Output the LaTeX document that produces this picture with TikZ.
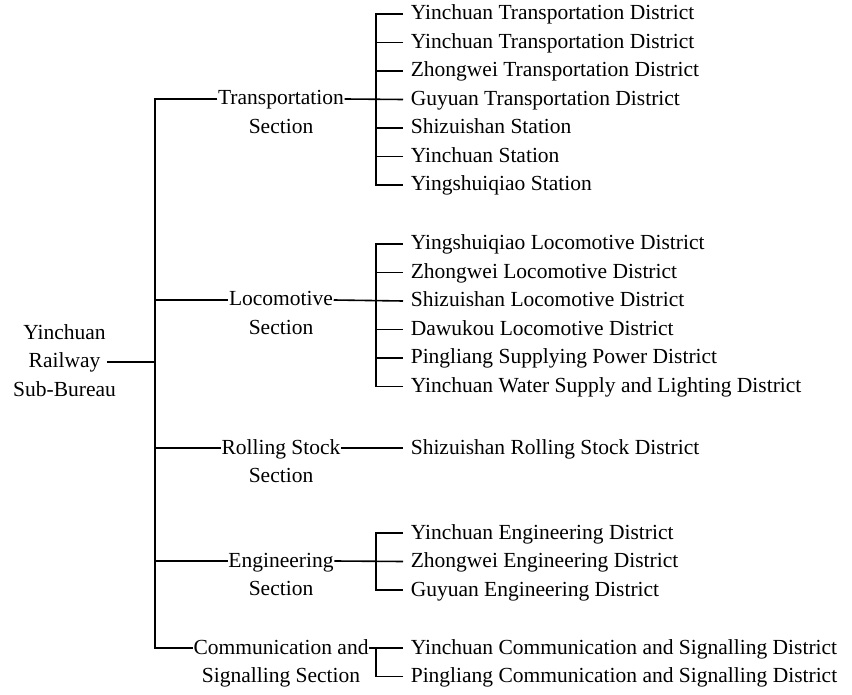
\documentclass[tikz,border=0pt]{standalone}
\usepackage{fontspec}
\setmainfont{Liberation Serif}
\usetikzlibrary{positioning}

\begin{document}
\begin{tikzpicture}[
    x=0.5pt, y=-0.5pt,
    font=\fontsize{10.75}{14.25}\selectfont,
    node distance=14.25pt,
    line width=0.8pt,
    txt/.style={inner sep=0pt, text height=0.7em, text depth=0.1em},
    under/.style={txt, yshift=-5.65pt},
    over/.style={txt, yshift=5.65pt},
    rootbox/.style={txt, inner xsep=3pt},
    sect/.style={txt},
    leaf/.style={txt, inner xsep=3.5pt, anchor=west},
    next/.style={below=of #1.west, anchor=west}
]
\useasboundingbox (0,0) rectangle (852,695);

\node[rootbox, label={[over]above:Yinchuan}, label={[under]below:Sub-Bureau}] (rail) at (64.5,362) {Railway};

\node[sect, label={[under]below:Section}] (trans) at (281,99) {Transportation};
\node[sect, label={[under]below:Section}] (loco) at (281,300) {Locomotive};
\node[sect, label={[under]below:Section}] (roll) at (281,448) {Rolling Stock};
\node[sect, label={[under]below:Section}] (eng) at (281,561) {Engineering};
\node[sect, label={[under]below:Signalling Section}] (comm) at (281,648) {Communication and};

\node[leaf] (tr1) at (403,14) {Yinchuan Transportation District};
\node[leaf, next=tr1] (tr2) {Yinchuan Transportation District};
\node[leaf, next=tr2] (tr3) {Zhongwei Transportation District};
\node[leaf, next=tr3] (tr4) {Guyuan Transportation District};
\node[leaf, next=tr4] (tr5) {Shizuishan Station};
\node[leaf, next=tr5] (tr6) {Yinchuan Station};
\node[leaf, next=tr6] (tr7) {Yingshuiqiao Station};

\node[leaf] (lo1) at (403,244) {Yingshuiqiao Locomotive District};
\node[leaf, next=lo1] (lo2) {Zhongwei Locomotive District};
\node[leaf, next=lo2] (lo3) {Shizuishan Locomotive District};
\node[leaf, next=lo3] (lo4) {Dawukou Locomotive District};
\node[leaf, next=lo4] (lo5) {Pingliang Supplying Power District};
\node[leaf, next=lo5] (lo6) {Yinchuan Water Supply and Lighting District};

\node[leaf] (ro1) at (403,448) {Shizuishan Rolling Stock District};

\node[leaf] (en1) at (403,533) {Yinchuan Engineering District};
\node[leaf, next=en1] (en2) {Zhongwei Engineering District};
\node[leaf, next=en2] (en3) {Guyuan Engineering District};

\node[leaf] (co1) at (403,648) {Yinchuan Communication and Signalling District};
\node[leaf, next=co1] (co2) {Pingliang Communication and Signalling District};

\coordinate (spine) at (155,362);
\coordinate (fork) at (376,0);

\draw (rail.east) -- (spine);
\draw (trans.west) -| (spine) |- (comm.west);
\draw (spine |- loco.west) -- (loco.west);
\draw (spine |- roll.west) -- (roll.west);
\draw (spine |- eng.west) -- (eng.west);

\draw (tr1.west) -| (fork |- trans.east) |- (tr7.west);
\draw (trans.east) -- (tr4.west);
\draw (fork |- tr2.west) -- (tr2.west);
\draw (fork |- tr3.west) -- (tr3.west);
\draw (fork |- tr5.west) -- (tr5.west);
\draw (fork |- tr6.west) -- (tr6.west);

\draw (lo1.west) -| (fork |- loco.east) |- (lo6.west);
\draw (loco.east) -- (lo3.west);
\draw (fork |- lo2.west) -- (lo2.west);
\draw (fork |- lo4.west) -- (lo4.west);
\draw (fork |- lo5.west) -- (lo5.west);

\draw (roll.east) -- (ro1.west);

\draw (en1.west) -| (fork |- eng.east) |- (en3.west);
\draw (eng.east) -- (en2.west);

\draw (comm.east) -- (co1.west);
\draw (fork |- co1.west) |- (co2.west);
\end{tikzpicture}
\end{document}
